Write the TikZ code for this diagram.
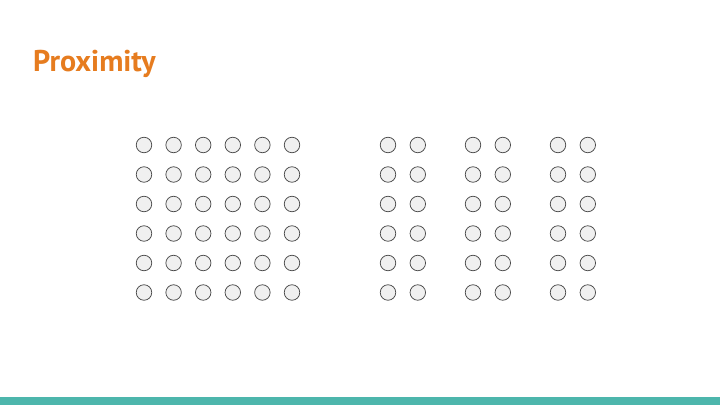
\documentclass[tikz,border=0pt]{standalone}
\usepackage{fontspec}
\setmainfont{PT Sans}
\usetikzlibrary{positioning}
\definecolor{titleorange}{HTML}{E67C1F}
\definecolor{barteal}{HTML}{4DB6AC}
\definecolor{dotfill}{HTML}{F0F0F0}
\definecolor{dotline}{HTML}{4A4A4A}
\tikzset{
    dot/.style={circle, draw=dotline, fill=dotfill, line width=0.75pt, minimum size=15.5pt, inner sep=0pt}
}

\begin{document}
\begin{tikzpicture}[x=1pt,y=1pt]
        \useasboundingbox[fill=white] (0,0) rectangle (720,405);
        \fill[barteal] (0,0) rectangle (720,8);
        \node[anchor=base west, inner sep=0pt, text=titleorange, font=\fontsize{30}{33}\selectfont\bfseries] (title) at (33,333) {Proximity};
        % left block: evenly spaced
        \foreach \i in {1,...,6}
            \foreach \j in {1,...,6}
                \node[dot] (L-\i-\j) at ({144+29.6*(\i-1)},{260-29.5*(\j-1)}) {};
        % right block: three pairs of columns
        \foreach \g/\x in {1/388,2/473,3/558}
            \foreach \i in {1,2}
                \foreach \j in {1,...,6}
                    \node[dot] (R-\g-\i-\j) at ({\x+29.8*(\i-1)},{260-29.5*(\j-1)}) {};
\end{tikzpicture}
\end{document}
